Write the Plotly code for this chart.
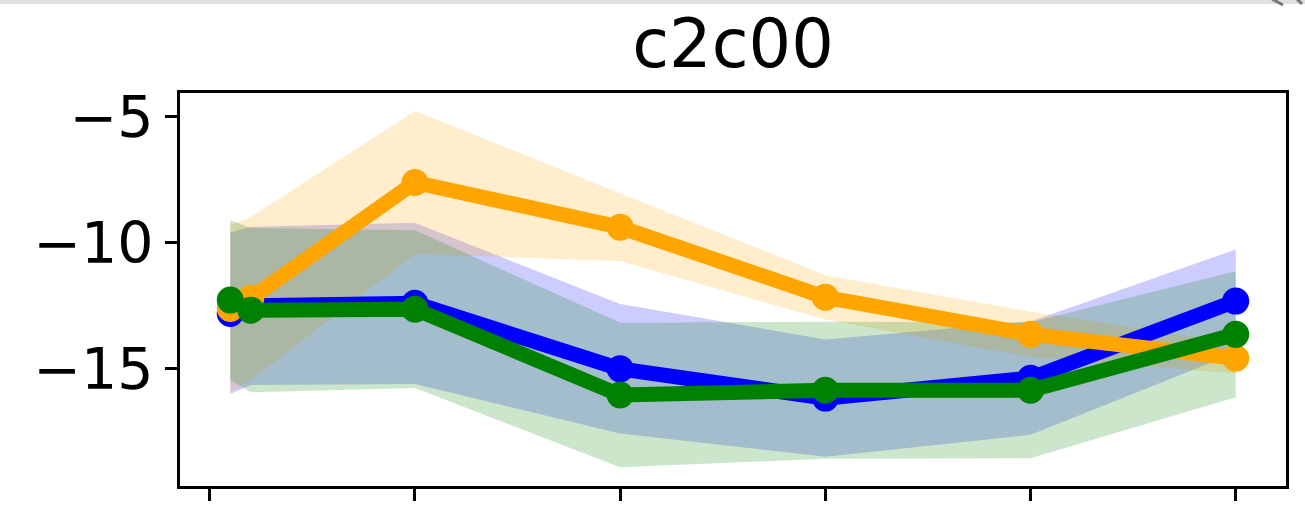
import plotly.graph_objects as go

x_vals = [0.1, 0.2, 1, 2, 3, 4, 5]
x_ticks = [0, 1, 2, 3, 4, 5]
y_ticks = [-5, -10, -15]

blue_mean = [-12.8, -12.5, -12.4, -15.0, -16.16, -15.37, -12.31]
blue_std = [3.2, 3.14, 3.2, 2.57, 2.33, 2.25, 2.05]

orange_mean = [-12.6, -12.2, -7.6, -9.38, -12.16, -13.63, -14.58]
orange_std = [3.3, 3.23, 2.84, 1.34, 0.88, 0.9, 0.6]

green_mean = [-12.27, -12.67, -12.63, -16.04, -15.85, -15.85, -13.63]
green_std = [3.17, 3.26, 3.13, 2.87, 2.72, 2.7, 2.5]

series = [
    ("blue", blue_mean, blue_std, "rgba(0,0,255,0.2)"),
    ("orange", orange_mean, orange_std, "rgba(255,165,0,0.2)"),
    ("green", green_mean, green_std, "rgba(0,128,0,0.2)"),
]

W, H = 1305, 518
ML, MR, MT, MB = 180, 19, 93, 32
PW, PH = W - ML - MR, H - MT - MB


def px(xp):
    return (xp - ML) / PW


def py(yp):
    return (H - MB - yp) / PH


fig = go.Figure()
for name, m, s, fc in series:
    upper = [a + b for a, b in zip(m, s)]
    lower = [a - b for a, b in zip(m, s)]
    fig.add_trace(go.Scatter(
        x=x_vals + x_vals[::-1], y=upper + lower[::-1],
        fill="toself", fillcolor=fc, mode="none", line=dict(width=0),
        hoverinfo="skip", showlegend=False))
for name, m, s, fc in series:
    fig.add_trace(go.Scatter(
        x=x_vals, y=m, mode="lines+markers",
        line=dict(color=name, width=15),
        marker=dict(color=name, size=27),
        showlegend=False))

fig.update_layout(
    width=W, height=H,
    margin=dict(l=ML, r=MR, t=MT, b=MB),
    paper_bgcolor="white", plot_bgcolor="white",
    font=dict(family="DejaVu Sans", size=57, color="black"),
    title=dict(text="c2c00", x=(ML + PW / 2) / W, xanchor="center",
               y=1 - 44 / H, yanchor="middle", yref="container",
               font=dict(size=67)),
    xaxis=dict(range=[-0.145, 5.245], tickvals=x_ticks, showticklabels=False,
               ticks="outside", ticklen=12, tickwidth=3, tickcolor="black",
               showline=True, linewidth=3, linecolor="black", mirror=True,
               showgrid=False, zeroline=False),
    yaxis=dict(range=[-19.65, -4.05], tickvals=y_ticks,
               ticktext=["\u22125", "\u221210", "\u221215"],
               ticks="outside", ticklen=12, tickwidth=3, tickcolor="black",
               showline=True, linewidth=3, linecolor="black", mirror=True,
               showgrid=False, zeroline=False,
               tickfont=dict(size=57)),
    shapes=[
        dict(type="rect", xref="paper", yref="paper", x0=px(-5), x1=px(W + 5),
             y0=py(4), y1=py(-5),
             fillcolor="#e0e0e0", line=dict(width=0), layer="above"),
        dict(type="line", xref="paper", yref="paper", x0=px(1272), y0=py(-1),
             x1=px(1283), y1=py(5), line=dict(color="#6c7b7b", width=3),
             layer="above"),
        dict(type="line", xref="paper", yref="paper", x0=px(1297), y0=py(-1),
             x1=px(1302), y1=py(4), line=dict(color="#6c7b7b", width=3),
             layer="above"),
    ],
)

fig.write_html("out.html")
